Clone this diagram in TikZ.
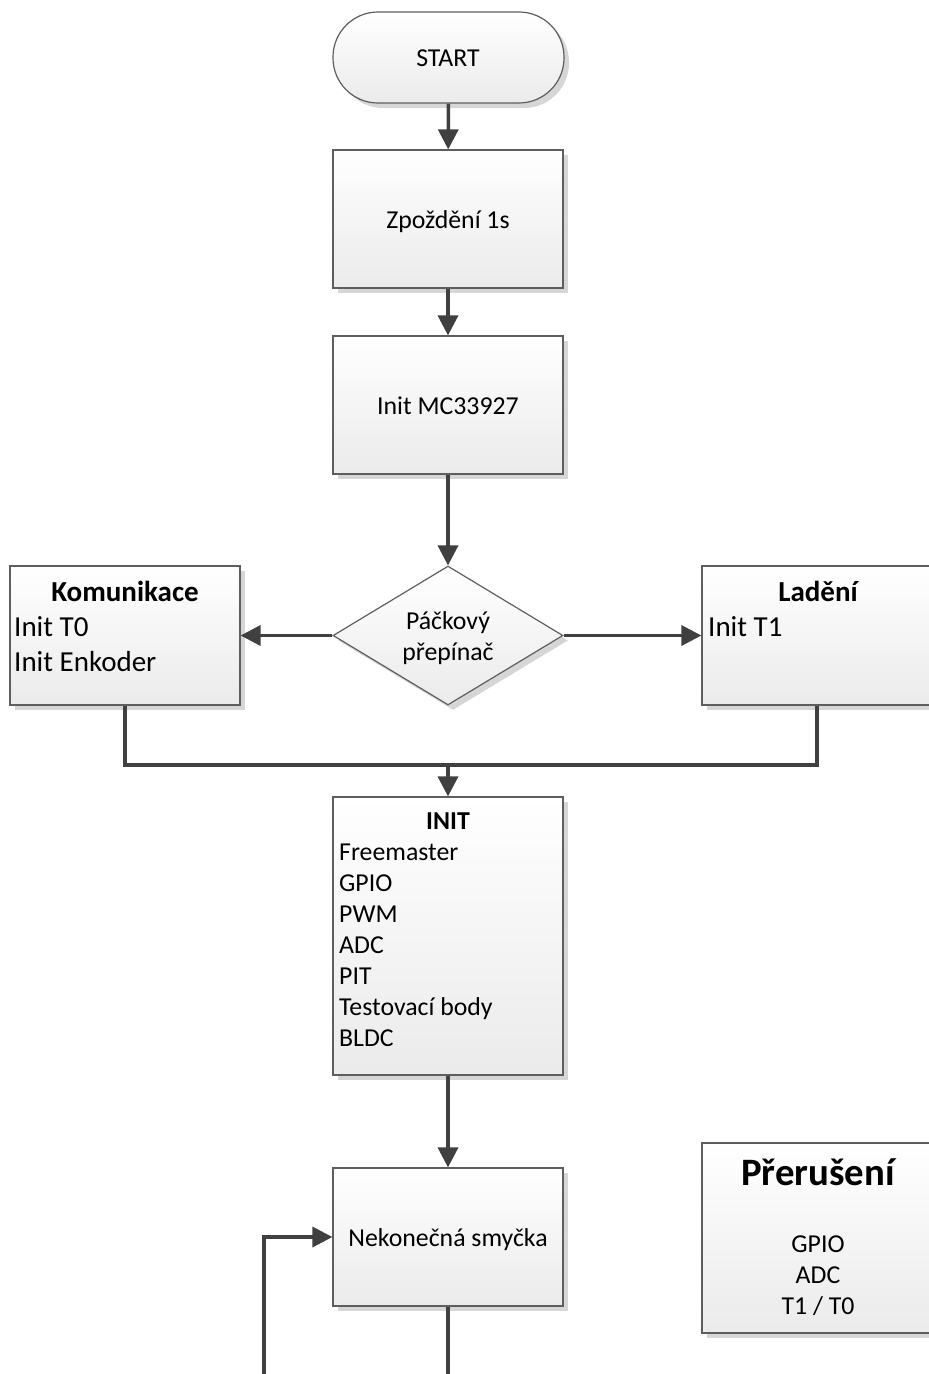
\documentclass[tikz,border=0pt]{standalone}
\usepackage{fontspec}
\setmainfont{Carlito}
\usetikzlibrary{shapes.geometric,shadows,arrows.meta}
\definecolor{bordc}{HTML}{5E5E5E}
\definecolor{arrc}{HTML}{404040}
\begin{document}
\begin{tikzpicture}[x=1pt,y=-1pt,
  fbox/.style={draw=bordc, line width=1.2pt, top color=white, bottom color=black!8,
    drop shadow={shadow xshift=5pt,shadow yshift=-5pt,fill=black!16,opacity=1},
    inner sep=0pt, minimum width=230pt, minimum height=138pt},
  term/.style={fbox, rounded corners=45pt, minimum width=231pt, minimum height=91pt},
  dec/.style={fbox, diamond, minimum width=230pt, minimum height=139pt},
  arr/.style={draw=arrc, line width=3.5pt, -{Triangle[length=20pt,width=20pt]}},
  ln/.style={draw=arrc, line width=3.5pt},
  tx/.style={inner sep=0pt, font=\fontsize{25.8pt}{31pt}\selectfont},
  tb/.style={inner sep=0pt, font=\fontsize{25.8pt}{31pt}\selectfont\bfseries},
  tm/.style={inner sep=0pt, font=\fontsize{29pt}{35pt}\selectfont},
  tmb/.style={inner sep=0pt, font=\fontsize{29pt}{35pt}\selectfont\bfseries},
  tbig/.style={inner sep=0pt, font=\fontsize{38.8pt}{46pt}\selectfont\bfseries}]
\useasboundingbox (0,0) rectangle (929,1374);
\clip (0,0) rectangle (929,1374);

% shapes
\node[term] (start) at (448.5,57.5) {};
\node[fbox] (zp) at (448,219) {};
\node[fbox] (mc) at (448,405) {};
\node[dec] (sw) at (448,635.5) {};
\node[fbox, minimum height=139pt] (kom) at (125,635.5) {};
\node[fbox, minimum height=139pt] (lad) at (817,635.5) {};
\node[fbox, minimum height=278pt] (init) at (448,936) {};
\node[fbox] (loop) at (448,1237) {};
\node[fbox, minimum height=190pt] (prer) at (817,1238) {};

% texts
\node[tx, anchor=base] (tstart) at (448,66) {START};
\node[tx, anchor=base] (tzp) at (448,228) {Zpoždění 1s};
\node[tx, anchor=base] (tmc) at (448,414) {Init MC33927};
\node[tx, anchor=base] (tsw1) at (448,629) {Páčkový};
\node[tx, anchor=base] (tsw2) at (448,660) {přepínač};
\node[tmb, anchor=base] (tkom) at (125,601) {Komunikace};
\node[tm, anchor=base west] (tkom1) at (14,636) {Init T0};
\node[tm, anchor=base west] (tkom2) at (14,671) {Init Enkoder};
\node[tmb, anchor=base] (tlad) at (818,601) {Ladění};
\node[tm, anchor=base west] (tlad1) at (708,636) {Init T1};
\node[tb, anchor=base] (tinit) at (448,829) {INIT};
\node[tx, anchor=base west] (ti1) at (339,860) {Freemaster};
\node[tx, anchor=base west] (ti2) at (339,891) {GPIO};
\node[tx, anchor=base west] (ti3) at (339,922) {PWM};
\node[tx, anchor=base west] (ti4) at (339,953) {ADC};
\node[tx, anchor=base west] (ti5) at (339,984) {PIT};
\node[tx, anchor=base west] (ti6) at (339,1015) {Testovací body};
\node[tx, anchor=base west] (ti7) at (339,1046) {BLDC};
\node[tx, anchor=base] (tloop) at (448,1246) {Nekonečná smyčka};
\node[tbig, anchor=base] (tprer) at (818,1185) {Přerušení};
\node[tx, anchor=base] (tp1) at (818,1252) {GPIO};
\node[tx, anchor=base] (tp2) at (818,1283) {ADC};
\node[tx, anchor=base] (tp3) at (818,1314) {T1 / T0};

% connectors
\coordinate (jn) at (448,765);
\coordinate (b1) at (448,1380);
\coordinate (b2) at (264,1380);
\draw[arr] (start) -- (zp);
\draw[arr] (zp) -- (mc);
\draw[arr] (mc) -- (sw);
\draw[arr] (sw.west) -- (kom.east);
\draw[arr] (sw.east) -- (lad.west);
\draw[ln] (kom.south) |- (jn) -| (lad.south);
\draw[arr] (jn) -- (init.north);
\draw[arr] (init) -- (loop);
\draw[ln] (loop.south) -- (b1);
\draw[arr] (b2) |- (loop.west);
\end{tikzpicture}
\end{document}
